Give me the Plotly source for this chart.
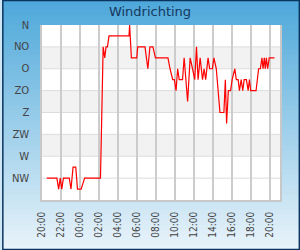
import plotly.graph_objects as go
import datetime as dt

# ---- data ----
title_text = "Windrichting"
start = "2024-05-01 20:00"
minutes_after_start = [30, 94, 105, 115, 125, 135, 172, 183, 196, 213,
                       224, 247, 269, 369, 386, 396, 404, 413, 423, 549,
                       553, 564, 598, 604, 650, 668, 681, 700, 716, 789,
                       795, 808, 825, 835, 846, 856, 866, 887, 897, 919,
                       935, 950, 964, 975, 985, 998, 1013, 1023, 1033, 1048,
                       1058, 1075, 1085, 1100, 1112, 1123, 1148, 1157, 1165, 1176,
                       1190, 1200, 1217, 1226, 1238, 1246, 1257, 1267, 1276, 1290,
                       1301, 1309, 1317, 1351, 1367, 1378, 1388, 1395, 1403, 1409,
                       1416, 1424, 1434, 1467]
direction_deg = [315, 315, 337.5, 315, 337.5, 315, 315, 337.5, 292.5, 292.5,
                 337.5, 337.5, 315, 315, 45, 67.5, 45, 45, 22.5, 22.5,
                 0, 67.5, 67.5, 45, 45, 90, 45, 45, 67.5, 67.5,
                 67.5, 90, 112.5, 112.5, 135, 90, 112.5, 112.5, 67.5, 157.5,
                 67.5, 90, 112.5, 45, 112.5, 67.5, 112.5, 90, 112.5, 67.5,
                 90, 90, 67.5, 90, 135, 180, 180, 112.5, 202.5, 135,
                 135, 112.5, 90, 112.5, 112.5, 135, 112.5, 135, 112.5, 112.5,
                 135, 112.5, 135, 135, 90, 90, 67.5, 90, 67.5, 90,
                 67.5, 90, 67.5, 67.5]
dir_ticks = [0, 45, 90, 135, 180, 225, 270, 315]
dir_labels = ["N", "NO", "O", "ZO", "Z", "ZW", "W", "NW"]
band_ranges = [(45, 90), (135, 180), (225, 270)]
x_tick_hours = list(range(0, 25, 2))
x_range_minutes = (0, 1502)

t0 = dt.datetime.strptime(start, "%Y-%m-%d %H:%M")
xs = [t0 + dt.timedelta(minutes=m) for m in minutes_after_start]
tickvals = [t0 + dt.timedelta(hours=h) for h in x_tick_hours]

W, H = 300, 250
L, R, T, B = 40, 20, 25, 50
pw, ph = W - L - R, H - T - B

def px_x(p):
    return (p - L) / pw

def px_y(p):
    return (H - B - p) / ph

shapes = []
# background vertical gradient
n = 50
top = (78, 168, 218)
bot = (232, 243, 250)
for i in range(n):
    f = i / (n - 1)
    c = tuple(int(round(top[k] + (bot[k] - top[k]) * f)) for k in range(3))
    y0 = H * i / n
    y1 = H * (i + 1) / n + 0.6
    shapes.append(dict(type="rect", xref="paper", yref="paper",
                       x0=px_x(0), x1=px_x(W), y0=px_y(y1), y1=px_y(y0),
                       fillcolor="rgb(%d,%d,%d)" % c, line=dict(width=0), layer="below"))
# plot area
shapes.append(dict(type="rect", xref="paper", yref="paper", x0=0, x1=1, y0=0, y1=1,
                   fillcolor="white", line=dict(width=0), layer="below"))
for a, b in band_ranges:
    shapes.append(dict(type="rect", xref="paper", yref="y", x0=0, x1=1, y0=a, y1=b,
                       fillcolor="#f2f2f2", line=dict(width=0), layer="below"))
for v in dir_ticks[1:]:
    shapes.append(dict(type="line", xref="paper", yref="y", x0=0, x1=1, y0=v, y1=v,
                       line=dict(color="#dcdcdc", width=1), layer="below"))
# outer border
shapes.append(dict(type="rect", xref="paper", yref="paper",
                   x0=px_x(0.5), x1=px_x(W - 0.5), y0=px_y(H - 0.5), y1=px_y(0.5),
                   line=dict(color="#0b3560", width=1.5), fillcolor="rgba(0,0,0,0)", layer="above"))

fig = go.Figure()
fig.add_trace(go.Scatter(x=xs, y=direction_deg, mode="lines",
                         line=dict(color="#ff0000", width=1.2), hoverinfo="skip"))

fig.update_layout(
    width=W, height=H,
    margin=dict(l=L, r=R, t=T, b=B),
    paper_bgcolor="#cfe6f4",
    plot_bgcolor="rgba(0,0,0,0)",
    showlegend=False,
    shapes=shapes,
    title=dict(text=title_text, x=0.5, xref="container", xanchor="center",
               y=1 - 11.5 / H, yref="container", yanchor="middle",
               font=dict(family="DejaVu Sans", size=13, color="#16375e")),
    xaxis=dict(type="date",
               range=[t0 + dt.timedelta(minutes=x_range_minutes[0]),
                      t0 + dt.timedelta(minutes=x_range_minutes[1])],
               tickvals=tickvals, tickformat="%H:%M", tickangle=-90,
               showgrid=True, gridcolor="#cccccc", gridwidth=1.6,
               showline=True, linecolor="#c8c8c8", linewidth=1.5,
               ticks="", ticklabelstandoff=6,
               tickfont=dict(family="DejaVu Sans Condensed, DejaVu Sans", size=10, color="#444444"),
               zeroline=False, fixedrange=True),
    yaxis=dict(range=[360, 0], tickvals=dir_ticks, ticktext=dir_labels,
               showgrid=False, showline=True, mirror=True, linecolor="#c8c8c8", linewidth=1.5,
               ticks="", ticklabelstandoff=9,
               tickfont=dict(family="DejaVu Sans", size=10, color="#444444"),
               zeroline=False, fixedrange=True),
)

fig.write_html("out.html", config={"displayModeBar": False})
